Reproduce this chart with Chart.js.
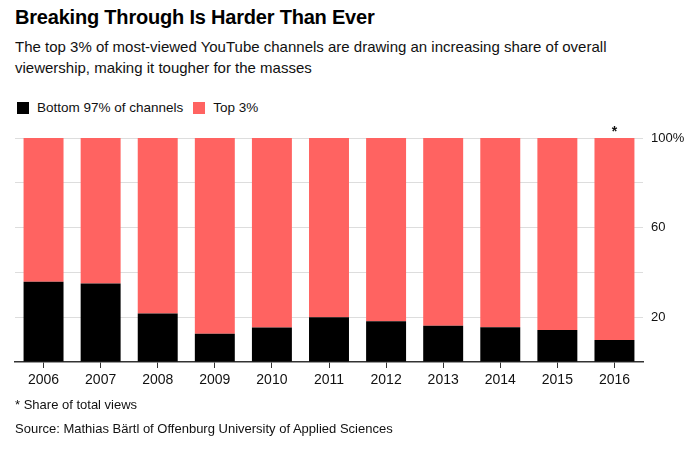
<!DOCTYPE html>
<html>
<head>
<meta charset="utf-8">
<script src="https://cdn.jsdelivr.net/npm/chart.js@4/dist/chart.umd.min.js"></script>
<style>
  body { margin: 0; background: #fff; font-family: "Liberation Sans", Arial, sans-serif; color: #000; }
  #wrap { position: relative; width: 700px; height: 451px; overflow: hidden; }
  .title { position: absolute; left: 15px; top: 5px; font-size: 20px; font-weight: bold; line-height: 24px; letter-spacing: -0.2px; }
  .sub { position: absolute; left: 15px; top: 36px; font-size: 15px; line-height: 21px; width: 640px; color: #111; }
  .legend { position: absolute; left: 17px; top: 98px; font-size: 13.5px; line-height: 19px; display: flex; align-items: center; color: #111; }
  .legend .sw { width: 12px; height: 12px; display: inline-block; margin-right: 8px; }
  .legend .item { display: flex; align-items: center; margin-right: 10px; }
  #box { position: absolute; left: 0; top: 120px; width: 700px; height: 280px; }
  .note { position: absolute; left: 15px; font-size: 13px; line-height: 16px; color: #111; }
</style>
</head>
<body>
<div id="wrap">
  <div class="title">Breaking Through Is Harder Than Ever</div>
  <div class="sub">The top 3% of most-viewed YouTube channels are drawing an increasing share of overall viewership, making it tougher for the masses</div>
  <div class="legend">
    <span class="item"><span class="sw" style="background:#000"></span>Bottom 97% of channels</span>
    <span class="item"><span class="sw" style="background:#ff6361"></span>Top 3%</span>
  </div>
  <div id="box"><canvas id="grafica"></canvas></div>
  <div class="note" style="top:397px">* Share of total views</div>
  <div class="note" style="top:421px">Source: Mathias Bärtl of Offenburg University of Applied Sciences</div>
</div>
<script>
const anios = ["2006", "2007", "2008", "2009", "2010", "2011", "2012", "2013", "2014", "2015", "2016"];
const bottom97 = [35.8, 35.1, 21.6, 12.6, 15.4, 20.0, 18.2, 16.2, 15.5, 14.3, 9.8];
const top3 = [64.2, 64.9, 78.4, 87.4, 84.6, 80.0, 81.8, 83.8, 84.5, 85.7, 90.2];
const ticksY = [20, 60, 100];

// asterisco sobre la ultima barra
const asterisco = {
    id: 'asterisco',
    afterDatasetsDraw(chart) {
        const ctx = chart.ctx;
        const x = chart.scales.x.getPixelForValue(anios.length - 1);
        const y = chart.scales.y.getPixelForValue(100);
        ctx.save();
        ctx.fillStyle = '#111';
        ctx.font = 'bold 14px "Liberation Sans", Arial';
        ctx.textAlign = 'center';
        ctx.textBaseline = 'bottom';
        ctx.fillText('*', x, y + 1);
        ctx.restore();
    }
};

new Chart(document.querySelector("#grafica"), {
    type: 'bar',
    data: {
        labels: anios,
        datasets: [
            { label: 'Bottom 97% of channels', data: bottom97, backgroundColor: '#000000', barPercentage: 0.7, categoryPercentage: 1 },
            { label: 'Top 3%', data: top3, backgroundColor: '#ff6361', barPercentage: 0.7, categoryPercentage: 1 },
        ]
    },
    options: {
        responsive: true,
        maintainAspectRatio: false,
        animation: false,
        layout: { padding: { left: 15, top: 18, right: 0, bottom: 0 } },
        plugins: { legend: { display: false }, tooltip: { enabled: false } },
        scales: {
            x: {
                stacked: true,
                grid: { offset: false, drawOnChartArea: false, drawTicks: true, tickLength: 6, color: '#333' },
                border: { display: true, color: '#333', width: 1.5 },
                ticks: { color: '#111', font: { size: 14, family: '"Liberation Sans", Arial' }, padding: 4 },
                afterFit(s) { s.height = 38; }
            },
            y: {
                stacked: true,
                position: 'right',
                min: 0,
                max: 100,
                border: { display: false },
                grid: {
                    drawTicks: false,
                    color: (c) => c.tick && c.tick.value === 0 ? 'rgba(0,0,0,0)' : '#dddddd'
                },
                ticks: {
                    stepSize: 20,
                    padding: 8,
                    color: '#111',
                    font: { size: 13, family: '"Liberation Sans", Arial' },
                    callback: (v) => v === 100 ? '100%' : (ticksY.includes(v) ? String(v) : '')
                },
                afterFit(s) { s.width = 57; }
            }
        }
    },
    plugins: [asterisco]
});
</script>
</body>
</html>
